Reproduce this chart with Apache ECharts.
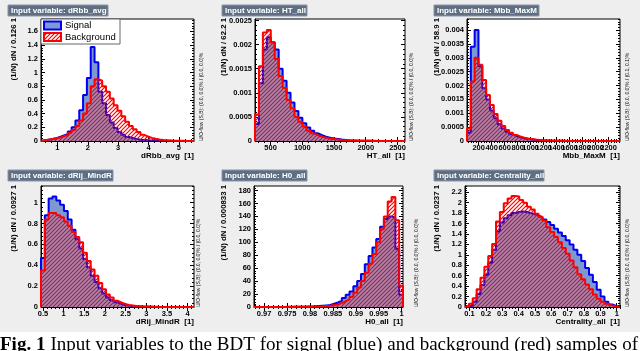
<!DOCTYPE html>
<html>
<head>
<meta charset="utf-8">
<script src="https://cdn.jsdelivr.net/npm/echarts@6/dist/echarts.min.js"></script>
<style>
  html, body { margin: 0; padding: 0; background: #fff; }
  #chart { width: 640px; height: 351px; }
</style>
</head>
<body>
<div id="chart"></div>
<script>
// ---- data ----
// dRbb_avg
const dRbbLow = 0.46, dRbbBin = 0.126;
const dRbbTicks = [1, 2, 3, 4, 5];
const dRbbYTicks = [0, 0.2, 0.4, 0.6, 0.8, 1, 1.2, 1.4, 1.6];
const dRbbSignal = [0.01, 0.02, 0.03, 0.04, 0.06, 0.08, 0.1, 0.14, 0.2, 0.3,
  0.45, 0.67, 0.92, 1.37, 1.15, 0.72, 0.55, 0.38, 0.27, 0.19,
  0.13, 0.09, 0.06, 0.045, 0.03, 0.02, 0.015, 0.01, 0.008, 0.006,
  0.004, 0.003, 0.002, 0.002, 0.001, 0.001, 0.001, 0, 0, 0];
const dRbbBackground = [0.01, 0.02, 0.03, 0.04, 0.05, 0.07, 0.09, 0.12, 0.16, 0.22,
  0.3, 0.4, 0.55, 0.8, 0.9, 0.88, 0.8, 0.72, 0.62, 0.52,
  0.44, 0.36, 0.28, 0.22, 0.17, 0.13, 0.09, 0.065, 0.045, 0.032,
  0.022, 0.015, 0.01, 0.007, 0.005, 0.003, 0.002, 0.001, 0.001, 0];

// HT_all
const htLow = 255, htBin = 62.2;
const htTicks = [500, 1000, 1500, 2000, 2500];
const htYTicks = [0, 0.0005, 0.001, 0.0015, 0.002, 0.0025];
const htSignal = [0.00035, 0.0012, 0.0019, 0.00215, 0.00205, 0.0019, 0.0015, 0.00125, 0.001, 0.0008,
  0.00062, 0.00048, 0.00037, 0.00028, 0.00021, 0.00016, 0.00012, 0.00009, 0.00007, 0.00005,
  0.00004, 0.00003, 0.000022, 0.000016, 0.000012, 0.000009, 0.000007, 0.000005, 0.000004, 0.000003,
  0.000002, 0.000002, 0.000001, 0.000001, 0.000001, 0, 0, 0];
const htBackground = [0.00055, 0.00155, 0.00225, 0.0023, 0.00205, 0.0017, 0.00135, 0.0011, 0.00085, 0.00068,
  0.0005, 0.0004, 0.0003, 0.00022, 0.00016, 0.00012, 0.00009, 0.00007, 0.00005, 0.00004,
  0.00003, 0.000022, 0.000016, 0.000012, 0.000009, 0.000007, 0.000005, 0.000004, 0.000003, 0.000002,
  0.000002, 0.000001, 0.000001, 0.000001, 0, 0, 0, 0];

// Mbb_MaxM
const mbbLow = 20, mbbBin = 58.9;
const mbbTicks = [200, 400, 600, 800, 1000, 1200, 1400, 1600, 1800, 2000, 2200];
const mbbYTicks = [0, 0.0005, 0.001, 0.0015, 0.002, 0.0025, 0.003, 0.0035, 0.004];
const mbbSignal = [0.0003, 0.0034, 0.004, 0.0027, 0.0019, 0.0015, 0.0011, 0.00082, 0.0006, 0.00045,
  0.00033, 0.00024, 0.00018, 0.00013, 0.0001, 0.00007, 0.00005, 0.00004, 0.00003, 0.000022,
  0.000016, 0.000012, 0.000009, 0.000007, 0.000005, 0.000004, 0.000003, 0.000002, 0.000002, 0.000001,
  0.000001, 0.000001, 0, 0, 0, 0, 0, 0, 0, 0];
const mbbBackground = [0.00045, 0.00215, 0.003, 0.00275, 0.0022, 0.00166, 0.0013, 0.00097, 0.00073, 0.00054,
  0.0004, 0.0003, 0.00022, 0.00016, 0.00012, 0.00009, 0.00007, 0.00005, 0.00004, 0.00003,
  0.000022, 0.000016, 0.000012, 0.000009, 0.000007, 0.000005, 0.000004, 0.000003, 0.000002, 0.000002,
  0.000001, 0.000001, 0.000001, 0, 0, 0, 0, 0, 0, 0];

// dRij_MindR
const dRijLow = 0.45, dRijBin = 0.0927;
const dRijTicks = [0.5, 1, 1.5, 2, 2.5, 3, 3.5, 4];
const dRijYTicks = [0, 0.2, 0.4, 0.6, 0.8, 1];
const dRijSignal = [0.47, 0.88, 1.04, 1.06, 1.02, 0.98, 0.92, 0.84, 0.74, 0.65,
  0.56, 0.46, 0.38, 0.3, 0.24, 0.18, 0.13, 0.09, 0.065, 0.045,
  0.03, 0.02, 0.014, 0.01, 0.007, 0.005, 0.003, 0.002, 0.002, 0.001,
  0.001, 0.001, 0, 0, 0, 0, 0, 0, 0, 0];
const dRijBackground = [0.35, 0.84, 0.9, 0.9, 0.88, 0.86, 0.82, 0.78, 0.72, 0.67,
  0.62, 0.52, 0.44, 0.36, 0.3, 0.23, 0.17, 0.12, 0.09, 0.06,
  0.045, 0.03, 0.02, 0.015, 0.01, 0.007, 0.005, 0.004, 0.003, 0.002,
  0.001, 0.001, 0.001, 0, 0, 0, 0, 0, 0, 0];

// H0_all
const h0Low = 0.9678, h0Bin = 0.000833;
const h0Ticks = [0.97, 0.975, 0.98, 0.985, 0.99, 0.995, 1];
const h0YTicks = [0, 20, 40, 60, 80, 100, 120, 140, 160, 180];
const h0Signal = [0, 0, 0, 0, 0, 0, 0.1, 0.1, 0.2, 0.2,
  0.3, 0.4, 0.5, 0.6, 0.8, 1, 1.5, 2, 2.5, 3,
  5, 7, 10, 14, 19, 24, 32, 40, 51, 66,
  79, 92, 105, 124, 136, 140, 138, 90, 19];
const h0Background = [0, 0, 0, 0, 0, 0, 0, 0.1, 0.1, 0.1,
  0.2, 0.2, 0.3, 0.4, 0.5, 0.7, 0.8, 1, 1.5, 2,
  3, 4, 6, 9, 12, 16, 22, 30, 40, 53,
  67, 82, 100, 120, 140, 163, 170, 134, 33];

// Centrality_all
const centLow = 0.072, centBin = 0.0237;
const centTicks = [0.1, 0.2, 0.3, 0.4, 0.5, 0.6, 0.7, 0.8, 0.9, 1];
const centYTicks = [0, 0.2, 0.4, 0.6, 0.8, 1, 1.2, 1.4, 1.6, 1.8, 2, 2.2];
const centSignal = [0.01, 0.03, 0.1, 0.25, 0.42, 0.62, 0.85, 1.1, 1.45, 1.62,
  1.7, 1.76, 1.8, 1.82, 1.83, 1.82, 1.8, 1.78, 1.75, 1.72,
  1.68, 1.63, 1.57, 1.5, 1.43, 1.36, 1.28, 1.2, 1.1, 1.0,
  0.88, 0.75, 0.62, 0.48, 0.33, 0.2, 0.1, 0.05, 0.02, 0.005];
const centBackground = [0.02, 0.06, 0.17, 0.34, 0.56, 0.77, 0.98, 1.21, 1.64, 1.82,
  1.99, 2.08, 2.13, 2.12, 2.05, 2.0, 1.92, 1.87, 1.79, 1.73,
  1.66, 1.53, 1.44, 1.34, 1.24, 1.13, 1.02, 0.89, 0.76, 0.63,
  0.53, 0.43, 0.34, 0.24, 0.16, 0.1, 0.06, 0.03, 0.01, 0.005];

const caption = 'Fig. 1 Input variables to the BDT for signal (blue) and background (red) samples of';

// ---- panels ----
const FONT = '"Liberation Sans", Arial, Helvetica, sans-serif';
const SERIF = '"Liberation Serif", "Times New Roman", serif';
const SIG_FILL = '#7d99d1', SIG_LINE = '#0000ee', BKG_LINE = '#ff0000';

const panels = [
  { name: 'dRbb_avg', lo: dRbbLow, bin: dRbbBin, sig: dRbbSignal, bkg: dRbbBackground, xt: dRbbTicks, yt: dRbbYTicks, ymax: 1.78,
    yName: '(1/N) dN / 0.126 1', flow: '(0.0, 0.0)% / (0.0, 0.0)%',
    box: { left: 41, top: 19, width: 153, height: 122 }, tb: [8, 5, 100], yx: 13.5, fx: 201.5 },
  { name: 'HT_all', lo: htLow, bin: htBin, sig: htSignal, bkg: htBackground, xt: htTicks, yt: htYTicks, ymax: 0.00253,
    yName: '(1/N) dN / 62.2 1', flow: '(0.0, 0.0)% / (0.0, 0.0)%',
    box: { left: 255, top: 19, width: 150, height: 122 }, tb: [222, 5, 85], yx: 223.5, fx: 412 },
  { name: 'Mbb_MaxM', lo: mbbLow, bin: mbbBin, sig: mbbSignal, bkg: mbbBackground, xt: mbbTicks, yt: mbbYTicks, ymax: 0.0044,
    yName: '(1/N) dN / 58.9 1', flow: '(0.0, 0.0)% / (0.1, 0.1)%',
    box: { left: 467, top: 19, width: 153, height: 122 }, tb: [434, 5, 105], yx: 437, fx: 628 },
  { name: 'dRij_MindR', lo: dRijLow, bin: dRijBin, sig: dRijSignal, bkg: dRijBackground, xt: dRijTicks, yt: dRijYTicks, ymax: 1.16,
    yName: '(1/N) dN / 0.0927 1', flow: '(0.0, 0.0)% / (0.0, 0.0)%',
    box: { left: 41, top: 186, width: 153, height: 121 }, tb: [8, 170, 105], yx: 13.5, fx: 198.5 },
  { name: 'H0_all', lo: h0Low, bin: h0Bin, sig: h0Signal, bkg: h0Background, xt: h0Ticks, yt: h0YTicks, ymax: 187,
    yName: '(1/N) dN / 0.000833 1', flow: '(0.0, 0.0)% / (0.0, 0.0)%',
    box: { left: 254, top: 186, width: 149, height: 121 }, tb: [222, 170, 85], yx: 223.5, fx: 416.5 },
  { name: 'Centrality_all', lo: centLow, bin: centBin, sig: centSignal, bkg: centBackground, xt: centTicks, yt: centYTicks, ymax: 2.32,
    yName: '(1/N) dN / 0.0237 1', flow: '(0.0, 0.0)% / (0.0, 0.0)%',
    box: { left: 465, top: 186, width: 155, height: 121 }, tb: [434, 170, 110], yx: 437, fx: 628 }
];

// red hatch pattern for background
function makeHatch() {
  const c = document.createElement('canvas');
  c.width = 4; c.height = 4;
  const ctx = c.getContext('2d');
  ctx.strokeStyle = BKG_LINE;
  ctx.lineWidth = 1.2;
  ctx.beginPath();
  ctx.moveTo(-1, 5); ctx.lineTo(5, -1);
  ctx.moveTo(-1, 1); ctx.lineTo(1, -1);
  ctx.moveTo(3, 5); ctx.lineTo(5, 3);
  ctx.stroke();
  return c;
}
const hatch = { image: makeHatch(), repeat: 'repeat' };

// histogram outline as step points
function histPoints(lo, w, vals) {
  const pts = [[lo, 0]];
  vals.forEach((v, i) => pts.push([lo + i * w, v]));
  pts.push([lo + vals.length * w, vals[vals.length - 1]]);
  pts.push([lo + vals.length * w, 0]);
  return pts;
}

const fmt = v => String(parseFloat(Number(v).toPrecision(6)));

function minorTicks(min, max, majors) {
  const step = (majors[1] - majors[0]) / 5;
  const out = [];
  for (let k = Math.ceil(min / step - 1e-9); k * step <= max + 1e-12; k++) {
    const v = parseFloat((k * step).toPrecision(10));
    if (!majors.some(m => Math.abs(m - v) < step * 1e-3)) out.push(v);
  }
  return out;
}

function axis(grid, min, max, pos, ticks, len, labels) {
  // blank labels at the axis ends keep echarts from dropping crowded end labels
  const labelVals = labels ? [min].concat(ticks.filter(t => t > min && t < max), [max]) : [];
  return {
    gridIndex: grid, type: 'value', min: min, max: max, position: pos,
    axisLine: { show: !!labels, lineStyle: { color: '#000', width: 1 } },
    axisTick: { show: true, inside: true, length: len, customValues: ticks, lineStyle: { color: '#000', width: 1 } },
    axisLabel: labels ? {
      show: true, customValues: labelVals,
      formatter: v => (ticks.some(t => Math.abs(t - v) < 1e-12) ? fmt(v) : ' '),
      color: '#000', fontSize: 7.5, fontWeight: 'bold', fontFamily: FONT, margin: 3, hideOverlap: false
    } : { show: false },
    splitLine: { show: false }, minorTick: { show: false }
  };
}

const grids = [], xAxes = [], yAxes = [], series = [], graphics = [];

graphics.push({ type: 'rect', z: -10, shape: { x: 0, y: 0, width: 640, height: 332 }, style: { fill: '#eeeeee' } });

panels.forEach((p, i) => {
  const hi = p.lo + p.sig.length * p.bin;
  grids.push(Object.assign({ show: true, backgroundColor: '#fff', borderColor: '#000', borderWidth: 1, outerBoundsMode: 'none' }, p.box));
  const xi = xAxes.length, yi = yAxes.length;
  const xm = minorTicks(p.lo, hi, p.xt), ym = minorTicks(0, p.ymax, p.yt);
  xAxes.push(axis(i, p.lo, hi, 'bottom', p.xt, 4, true));
  xAxes.push(axis(i, p.lo, hi, 'bottom', xm, 2, false));
  xAxes.push(axis(i, p.lo, hi, 'top', p.xt, 4, false));
  xAxes.push(axis(i, p.lo, hi, 'top', xm, 2, false));
  yAxes.push(axis(i, 0, p.ymax, 'left', p.yt, 4, true));
  yAxes.push(axis(i, 0, p.ymax, 'left', ym, 2, false));
  yAxes.push(axis(i, 0, p.ymax, 'right', p.yt, 4, false));
  yAxes.push(axis(i, 0, p.ymax, 'right', ym, 2, false));

  series.push({
    name: 'Signal', type: 'line', xAxisIndex: xi, yAxisIndex: yi, step: 'end',
    data: histPoints(p.lo, p.bin, p.sig), symbol: 'none', z: 2,
    lineStyle: { color: SIG_LINE, width: 2 }, areaStyle: { color: SIG_FILL, opacity: 1 },
    itemStyle: { color: SIG_FILL }, animation: false
  });
  series.push({
    name: 'Background', type: 'line', xAxisIndex: xi, yAxisIndex: yi, step: 'end',
    data: histPoints(p.lo, p.bin, p.bkg), symbol: 'none', z: 3,
    lineStyle: { color: BKG_LINE, width: 2 }, areaStyle: { color: hatch, opacity: 1 },
    itemStyle: { color: BKG_LINE }, animation: false
  });

  const b = p.box;
  // panel title box
  graphics.push({ type: 'rect', z: 20, shape: { x: p.tb[0], y: p.tb[1], width: p.tb[2], height: 11 },
    style: { fill: '#5f6e82', stroke: '#8a97a8', lineWidth: 1 } });
  graphics.push({ type: 'text', z: 21, x: p.tb[0] + 3, y: p.tb[1] + 5.8,
    style: { text: 'Input variable: ' + p.name, fill: '#fff', font: 'bold 8px ' + FONT, verticalAlign: 'middle', align: 'left' } });
  // x title
  graphics.push({ type: 'text', z: 21, x: b.left + b.width, y: b.top + b.height + 15,
    style: { text: p.name + '  [1]', fill: '#000', font: 'bold 8px ' + FONT, align: 'right', verticalAlign: 'middle' } });
  // y title
  graphics.push({ type: 'text', z: 21, x: p.yx, y: b.top - 1, rotation: Math.PI / 2,
    style: { text: p.yName, fill: '#000', font: 'bold 7.8px ' + FONT, align: 'right', verticalAlign: 'middle' } });
  // under/overflow note
  graphics.push({ type: 'text', z: 21, x: p.fx, y: b.top + b.height, rotation: Math.PI / 2,
    style: { text: 'U/O-flow (S,B): ' + p.flow, fill: '#000', font: '5px ' + FONT, align: 'left', verticalAlign: 'middle' } });
});

// legend in the first panel
graphics.push({ type: 'rect', z: 20, shape: { x: 41, y: 19, width: 79, height: 25 }, style: { fill: '#fff', stroke: '#666', lineWidth: 1 } });
graphics.push({ type: 'rect', z: 21, shape: { x: 44, y: 21.5, width: 17, height: 8 }, style: { fill: SIG_FILL, stroke: SIG_LINE, lineWidth: 2 } });
graphics.push({ type: 'rect', z: 21, shape: { x: 44, y: 33, width: 17, height: 8 }, style: { fill: hatch, stroke: BKG_LINE, lineWidth: 2 } });
graphics.push({ type: 'text', z: 21, x: 65, y: 25.5, style: { text: 'Signal', fill: '#000', font: '9.5px ' + FONT, verticalAlign: 'middle' } });
graphics.push({ type: 'text', z: 21, x: 65, y: 37, style: { text: 'Background', fill: '#000', font: '9.5px ' + FONT, verticalAlign: 'middle' } });

// caption, justified across the page width like the printed figure
(function () {
  const words = caption.split(' ');
  const ctx = document.createElement('canvas').getContext('2d');
  const fonts = words.map((w, k) => (k < 2 ? 'bold ' : '') + '19px ' + SERIF);
  const widths = words.map((w, k) => { ctx.font = fonts[k]; return ctx.measureText(w).width; });
  const gap = Math.max(3, (638 - widths.reduce((a, b) => a + b, 0)) / (words.length - 1));
  let x = 0;
  words.forEach((w, k) => {
    graphics.push({ type: 'text', z: 21, x: x, y: 336,
      style: { text: w, fill: '#000', font: fonts[k], verticalAlign: 'top', align: 'left' } });
    x += widths[k] + gap;
  });
})();

const chart = echarts.init(document.getElementById('chart'), null, { renderer: 'canvas' });
chart.setOption({
  backgroundColor: '#fff',
  animation: false,
  grid: grids,
  xAxis: xAxes,
  yAxis: yAxes,
  series: series,
  graphic: { elements: graphics }
});
</script>
</body>
</html>
